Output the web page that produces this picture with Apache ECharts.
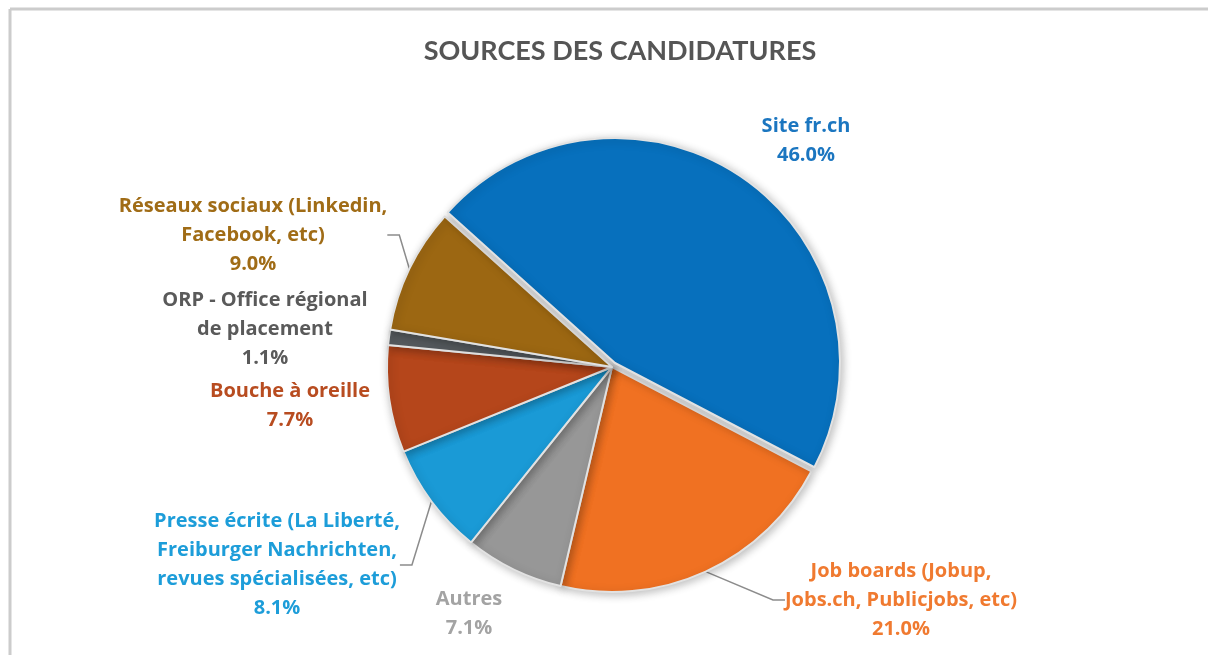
<!DOCTYPE html>
<html>
<head>
<meta charset="utf-8">
<script src="https://cdn.jsdelivr.net/npm/echarts@6/dist/echarts.min.js"></script>
<style>
  html, body { margin: 0; padding: 0; background: #ffffff; }
  #chart { width: 1208px; height: 655px; }
</style>
</head>
<body>
<div id="chart"></div>
<script>
// Sources of applications, in percent of all applications received
const categories = [
  'Site fr.ch',
  'Job boards (Jobup,\nJobs.ch, Publicjobs, etc)',
  'Autres',
  'Presse écrite (La Liberté,\nFreiburger Nachrichten,\nrevues spécialisées, etc)',
  'Bouche à oreille',
  'ORP - Office régional\nde placement',
  'Réseaux sociaux (Linkedin,\nFacebook, etc)'
];
const shares = [46.0, 21.0, 7.1, 8.1, 7.7, 1.1, 9.0];

// Styling
const sliceColors = ['#0770BD', '#F07122', '#979797', '#1A9AD6', '#B5461B', '#575C60', '#9C6712'];
const labelColors = ['#1B76C0', '#F07A30', '#A3A3A3', '#1D9DD9', '#B84C20', '#5A5A5A', '#A06C16'];
const withLeader = [false, true, false, true, false, false, true];
const liftedIndex = 0;           // the slice pulled out of the pie
// label block centres (px)
const labelSpots = [
  [806, 141], [901, 600], [469, 614], [277, 565], [290, 406], [265, 329], [253, 235]
];

const LABEL_FONT = '"Open Sans", Lato, sans-serif';
const TITLE_FONT = 'Lato, "Open Sans", sans-serif';
const CLEAR = 'rgba(0,0,0,0)';

const CENTER = [612, 367];
const LIFT = [3, -4];            // offset of the pulled-out slice
const RADIUS = 225;
const START = 138;

const sliceStyle = {
  borderColor: '#e2e2e2',
  borderWidth: 2,
  shadowBlur: 8,
  shadowColor: 'rgba(0,0,0,0.25)',
  shadowOffsetX: 2,
  shadowOffsetY: 2
};
const hiddenStyle = { color: CLEAR, borderWidth: 0, shadowBlur: 0, shadowColor: CLEAR };

const chart = echarts.init(document.getElementById('chart'), null, { renderer: 'canvas' });

chart.setOption({
  backgroundColor: '#ffffff',
  animation: false,
  title: {
    text: 'SOURCES DES CANDIDATURES',
    left: 615,
    textAlign: 'center',
    top: 33,
    textStyle: { fontFamily: TITLE_FONT, fontWeight: 'bold', fontSize: 27, color: '#555555' }
  },
  graphic: [
    { type: 'line', shape: { x1: 10, y1: 9, x2: 1208, y2: 9 }, style: { stroke: '#cccccc', lineWidth: 3 } },
    { type: 'line', shape: { x1: 10, y1: 9, x2: 10, y2: 655 }, style: { stroke: '#cccccc', lineWidth: 3 } }
  ],
  series: [
    {
      // main pie: every slice except the pulled-out one, plus all labels
      type: 'pie',
      center: CENTER,
      radius: RADIUS,
      startAngle: START,
      clockwise: true,
      avoidLabelOverlap: false,
      itemStyle: sliceStyle,
      label: {
        show: true,
        position: 'outside',
        fontFamily: LABEL_FONT,
        fontWeight: 'bold',
        fontSize: 20,
        lineHeight: 29,
        align: 'center',
        formatter: p => p.name + '\n' + p.value.toFixed(1) + '%'
      },
      labelLine: {
        show: true,
        length: 20,
        length2: 12,
        lineStyle: { color: '#8c8c8c', width: 1.5 }
      },
      labelLayout: p => ({
        x: labelSpots[p.dataIndex][0],
        y: labelSpots[p.dataIndex][1],
        align: 'center',
        verticalAlign: 'middle'
      }),
      data: categories.map((name, i) => ({
        name: name,
        value: shares[i],
        itemStyle: i === liftedIndex ? hiddenStyle : { color: sliceColors[i] },
        label: { color: labelColors[i] },
        labelLine: { show: withLeader[i] }
      }))
    },
    {
      // pulled-out slice, drawn with the same angles on a shifted centre
      type: 'pie',
      center: [CENTER[0] + LIFT[0], CENTER[1] + LIFT[1]],
      radius: RADIUS,
      startAngle: START,
      clockwise: true,
      silent: true,
      itemStyle: sliceStyle,
      label: { show: false },
      labelLine: { show: false },
      data: categories.map((name, i) => ({
        name: name,
        value: shares[i],
        itemStyle: i === liftedIndex ? { color: sliceColors[i] } : hiddenStyle
      }))
    }
  ]
});
</script>
</body>
</html>
